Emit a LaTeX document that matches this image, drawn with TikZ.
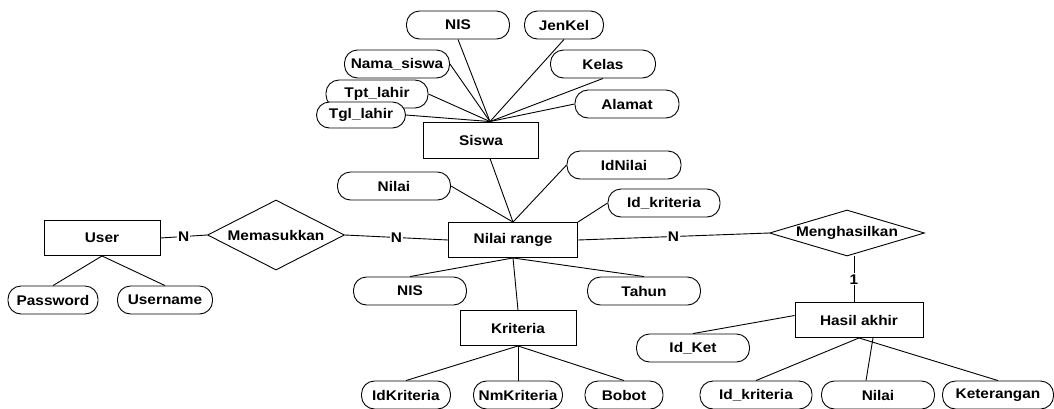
\documentclass[tikz,border=0pt]{standalone}
\usepackage{fontspec}
\setmainfont{Liberation Sans}[FakeStretch=1.1]
\usepackage{tikz}
\usetikzlibrary{shapes.geometric,calc}

\begin{document}
\begin{tikzpicture}[x=1pt,y=-1pt,line width=0.9pt,
  font=\bfseries\fontsize{14pt}{16pt}\selectfont,
  entitas/.style={draw, fill=white, minimum height=35pt, inner sep=0pt},
  atribut/.style={draw, fill=white, rounded corners=13pt, minimum height=28pt, inner sep=0pt},
  relasi/.style={draw, diamond, fill=white, inner sep=0pt},
  kard/.style={fill=white, inner sep=1pt}]
\useasboundingbox (0,0) rectangle (1054,408);
\node (user) at (102,238) [entitas, minimum width=116pt] {User};
\node (siswa) at (481,140) [entitas, minimum width=115pt, minimum height=36pt] {Siswa};
\node (nr) at (513,240) [entitas, minimum width=129pt] {Nilai range};
\node (krit) at (518,328) [entitas, minimum width=116pt] {Kriteria};
\node (hasil) at (859,320) [entitas, minimum width=128pt] {Hasil akhir};
\node (mem) at (276,235) [relasi, shape aspect=1.96, minimum width=137pt, minimum height=70pt] {Memasukkan};
\node (mh) at (847,233) [relasi, shape aspect=3.37, minimum width=155pt, minimum height=46pt] {Menghasilkan};
\node (nisA) at (458,25) [atribut, minimum width=103pt] {NIS};
\node (jenkel) at (564,25) [atribut, minimum width=79pt] {JenKel};
\node (nama) at (397,64) [atribut, minimum width=105pt] {Nama\_siswa};
\node (kelas) at (603,64) [atribut, minimum width=105pt] {Kelas};
\node (tpt) at (377,94) [atribut, minimum width=102pt] {Tpt\_lahir};
\node (tgl) at (361,115) [atribut, minimum width=89pt, minimum height=26pt] {Tgl\_lahir};
\node (alamat) at (627,104) [atribut, minimum width=104pt] {Alamat};
\node (idnilai) at (624,165) [atribut, minimum width=114pt] {IdNilai};
\node (nilaiA) at (394,186) [atribut, minimum width=113pt] {Nilai};
\node (idkritA) at (664,203) [atribut, minimum width=112pt] {Id\_kriteria};
\node (nisB) at (410,291) [atribut, minimum width=113pt] {NIS};
\node (tahun) at (644,291) [atribut, minimum width=113pt] {Tahun};
\node (password) at (53,300) [atribut, minimum width=90pt] {Password};
\node (username) at (165,300) [atribut, minimum width=95pt] {Username};
\node (idket) at (693,348) [atribut, minimum width=113pt] {Id\_Ket};
\node (idkrit) at (406,395) [atribut, minimum width=89pt] {IdKriteria};
\node (nmkrit) at (518,395) [atribut, minimum width=89pt] {NmKriteria};
\node (bobot) at (624,395) [atribut, minimum width=78pt] {Bobot};
\node (idkritB) at (756,395) [atribut, minimum width=112pt] {Id\_kriteria};
\node (nilaiB) at (878,395) [atribut, minimum width=113pt] {Nilai};
\node (ket) at (998,395) [atribut, minimum width=111pt] {Keterangan};
\coordinate (siswaatas) at ($(siswa.north)+(9,0)$);
\draw (nisA.south) -- (siswaatas);
\draw (jenkel.south) -- (siswaatas);
\draw (nama.east) -- (siswaatas);
\draw (kelas.south) -- (siswaatas);
\draw (tpt.east) -- (siswaatas);
\draw (tgl.east) -- (siswaatas);
\draw (alamat.west) -- (siswaatas);
\draw ($(siswa.south)+(9,0)$) -- (nr.north);
\draw (nilaiA.east) -- (nr.north);
\draw (idnilai.west) -- (nr.north);
\draw (idkritA.west) -- (nr.north east);
\draw (nr.south) -- (nisB.north);
\draw (nr.south) -- (tahun.north);
\draw (nr.south) -- (krit.north);
\draw (krit.south) -- (idkrit.north);
\draw (krit.south) -- (nmkrit.north);
\draw (krit.south) -- (bobot.north);
\draw (user.south) -- (password.north);
\draw (user.south) -- (username.north);
\draw (user.east) -- (mem.west) node[kard, midway] {N};
\draw (mem.east) -- (nr.west) node[kard, midway] {N};
\draw (nr.east) -- (mh.west) node[kard, midway] {N};
\draw ($(mh.south)+(7,0)$) -- ($(hasil.north)+(-5,0)$) node[kard, midway] {1};
\draw (hasil.176) -- (idket.north);
\draw (hasil.south) -- (idkritB.north);
\draw ($(hasil.south)+(14,0)$) -- ($(nilaiB.north)+(-12,0)$);
\draw (hasil.south) -- (ket.north);
\end{tikzpicture}
\end{document}
